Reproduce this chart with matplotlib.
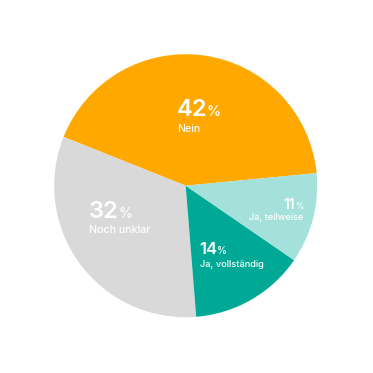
import matplotlib
matplotlib.use("Agg")
import matplotlib.pyplot as plt
from matplotlib.transforms import IdentityTransform

# data
categories = ["Nein", "Noch unklar", "Ja, vollständig", "Ja, teilweise"]
shares = [42, 32, 14, 11]
colors = ["#FFA800", "#D9D9D9", "#00A996", "#A4E1DA"]

plt.rcParams['font.family'] = ['Inter', 'DejaVu Sans']

W = 373
R = 131.5            # pie radius in px
CX, CY = 185.7, 185.7  # centre in image px (from top-left)

fig = plt.figure(figsize=(W / 100, W / 100), dpi=100)
ax = fig.add_axes([0, 0, 1, 1])

ax.pie(shares, colors=colors, startangle=5.5, counterclock=True,
       radius=1, center=(0, 0), wedgeprops=dict(linewidth=0))

# pie() resets the limits, so set them afterwards
ax.set_xlim(-CX / R, (W - CX) / R)
ax.set_ylim(-(W - CY) / R, CY / R)
ax.set_aspect('equal')
ax.axis('off')

# label layout: (x px, number baseline px, label baseline px, num size, label size, ha)
layout = [
    (176.7, 116, 132, 17, 7.6, 'left'),
    (89.0, 218, 233, 17, 7.7, 'left'),
    (199.5, 254, 267, 12, 6.7, 'left'),
    (303.0, 209, 220, 10, 6.6, 'right'),
]

fig.canvas.draw()
renderer = fig.canvas.get_renderer()
H = fig.bbox.height


def px(x, y):
    return x, H - y


for cat, val, (x, yb, yl, ns, ls, ha) in zip(categories, shares, layout):
    psize = ns * 0.6
    gap = -ns * 0.03
    if ha == 'left':
        t = fig.text(*px(x, yb), str(val), transform=IdentityTransform(),
                     fontsize=ns, fontweight='semibold', color='white',
                     ha='left', va='baseline')
        bb = t.get_window_extent(renderer)
        fig.text(bb.x1 + gap, H - yb, '%', transform=IdentityTransform(),
                 fontsize=psize, fontweight='medium', color='white',
                 ha='left', va='baseline')
    else:
        p = fig.text(*px(x, yb), '%', transform=IdentityTransform(),
                     fontsize=psize, fontweight='medium', color='white',
                     ha='right', va='baseline')
        bb = p.get_window_extent(renderer)
        fig.text(bb.x0 - gap, H - yb, str(val), transform=IdentityTransform(),
                 fontsize=ns, fontweight='semibold', color='white',
                 ha='right', va='baseline')
    fig.text(*px(x, yl), cat, transform=IdentityTransform(),
             fontsize=ls, fontweight='medium', color='white',
             ha=ha, va='baseline')

fig.savefig("out.png", dpi=100)
